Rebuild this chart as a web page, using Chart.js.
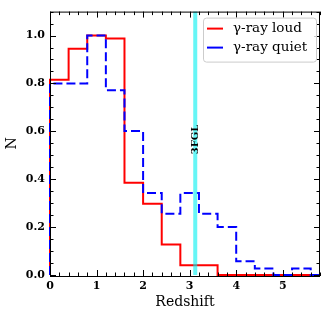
<!DOCTYPE html>
<html><head><meta charset="utf-8">
<script src="https://cdn.jsdelivr.net/npm/chart.js@4"></script>
<style>html,body{margin:0;padding:0;background:#fff}#c{display:block}</style>
</head><body>
<canvas id="c" width="326" height="318"></canvas>
<script>
// ---- data ----
const binEdges = [0,0.4,0.8,1.2,1.6,2.0,2.4,2.8,3.2,3.6,4.0,4.4,4.8,5.2,5.6,6.0];
const loudValues  = [0.815,0.945,1.0,0.988,0.385,0.298,0.127,0.041,0.041,0,0,0,0,0,0];
const quietValues = [0.80,0.80,1.0,0.772,0.601,0.342,0.256,0.342,0.256,0.20,0.057,0.027,0,0.027,0];
const seriesLabels = ['\u03b3-ray loud','\u03b3-ray quiet'];
const xTicks = [0,1,2,3,4,5];
const yTicks = [0,0.2,0.4,0.6,0.8,1.0];
const fglRedshift = 3.12;
const fglLabel = '3FGL';

function stepPoints(values){
  const pts=[{x:binEdges[0],y:0}];
  values.forEach((v,i)=>pts.push({x:binEdges[i],y:v}));
  pts.push({x:binEdges[values.length],y:0});
  return pts;
}

const SERIF = '"DejaVu Serif", serif';
Chart.defaults.color = '#000';

const decor = {
  id:'decor',
  afterDatasetsDraw(chart){
    const {ctx, chartArea:a, scales:{x,y}} = chart;
    ctx.save();
    const px = x.getPixelForValue(fglRedshift);
    ctx.strokeStyle = 'rgba(0,240,240,0.6)';
    ctx.lineWidth = 4;
    ctx.beginPath(); ctx.moveTo(px,a.top); ctx.lineTo(px,a.bottom); ctx.stroke();
    ctx.fillStyle='#000';
    ctx.font = 'bold 10px '+SERIF;
    ctx.translate(px, y.getPixelForValue(0.566));
    ctx.rotate(-Math.PI/2);
    ctx.textAlign='center'; ctx.textBaseline='middle';
    ctx.fillText(fglLabel,0,0);
    ctx.restore();
  },
  afterDraw(chart){
    const {ctx, chartArea:a, scales:{x,y}} = chart;
    ctx.save();
    ctx.strokeStyle='#000'; ctx.lineWidth=1;
    const B = a.bottom+1;
    ctx.strokeRect(a.left+0.5,a.top+0.5,a.right-a.left-1,B-a.top);
    const MJ=6, MN=3.5;
    ctx.beginPath();
    for(let k=0; k<=29; k++){
      const v=k*0.2; if(v>5.8+1e-9) break;
      const major = k%5===0;
      const p = Math.round(x.getPixelForValue(v))+0.5;
      const L = major?MJ:MN;
      ctx.moveTo(p,B); ctx.lineTo(p,B-L);
      ctx.moveTo(p,a.top); ctx.lineTo(p,a.top+L);
    }
    for(let k=0; k<=22; k++){
      const v=k*0.05;
      const major = k%4===0;
      const p = Math.round(y.getPixelForValue(v))+0.5;
      const L = major?MJ:MN;
      ctx.moveTo(a.left,p); ctx.lineTo(a.left+L,p);
      ctx.moveTo(a.right,p); ctx.lineTo(a.right-L,p);
    }
    ctx.stroke();
    // legend
    const bw=113,bh=44;
    const bx=a.right-4-bw, by=a.top+6;
    ctx.beginPath();
    ctx.roundRect(bx+0.5,by+0.5,bw,bh,3);
    ctx.fillStyle='rgba(255,255,255,0.8)'; ctx.fill();
    ctx.strokeStyle='#cccccc'; ctx.stroke();
    ctx.font='13.5px '+SERIF; ctx.textBaseline='middle'; ctx.textAlign='left';
    chart.data.datasets.forEach((ds,i)=>{
      const ly = by+11+i*19;
      ctx.strokeStyle=ds.borderColor; ctx.lineWidth=2; ctx.setLineDash([]);
      ctx.beginPath(); ctx.moveTo(bx+4,ly); ctx.lineTo(bx+20,ly); ctx.stroke();
      ctx.fillStyle='#000';
      ctx.fillText(ds.label,bx+30,ly);
    });
    ctx.restore();
  }
};

new Chart(document.getElementById('c'),{
  type:'line',
  data:{datasets:[
    {label:seriesLabels[0],data:stepPoints(loudValues),borderColor:'#ff0000',borderWidth:2,stepped:'before',pointRadius:0,order:1,clip:{left:2,top:2,right:0,bottom:2}},
    {label:seriesLabels[1],data:stepPoints(quietValues),borderColor:'#0000ff',borderWidth:2,borderDash:[9,4],stepped:'before',pointRadius:0,order:0,clip:{left:2,top:2,right:0,bottom:2}}
  ]},
  options:{
    responsive:false,animation:false,
    layout:{padding:{top:7,right:6,left:0,bottom:0}},
    plugins:{legend:{display:false},tooltip:{enabled:false}},
    scales:{
      x:{type:'linear',min:0,max:5.8,
        afterBuildTicks:s=>{s.ticks=xTicks.map(v=>({value:v}));},
        afterFit:s=>{s.height=43;},
        grid:{display:false,drawTicks:false},border:{display:false},
        ticks:{padding:5,font:{family:SERIF,size:11,weight:'bold'},callback:v=>String(v),maxRotation:0},
        title:{display:true,text:'Redshift',font:{family:SERIF,size:14},padding:{top:0,bottom:7}}
      },
      y:{type:'linear',min:0,max:1.1,
        afterBuildTicks:s=>{s.ticks=yTicks.map(v=>({value:v}));},
        afterFit:s=>{s.width=50;},
        grid:{display:false,drawTicks:false},border:{display:false},
        ticks:{padding:5,font:{family:SERIF,size:11,weight:'bold'},callback:v=>Number(v).toFixed(1)},
        title:{display:true,text:'N',font:{family:SERIF,size:14},padding:{top:4,bottom:0}}
      }
    }
  },
  plugins:[decor]
});
</script>
</body></html>
